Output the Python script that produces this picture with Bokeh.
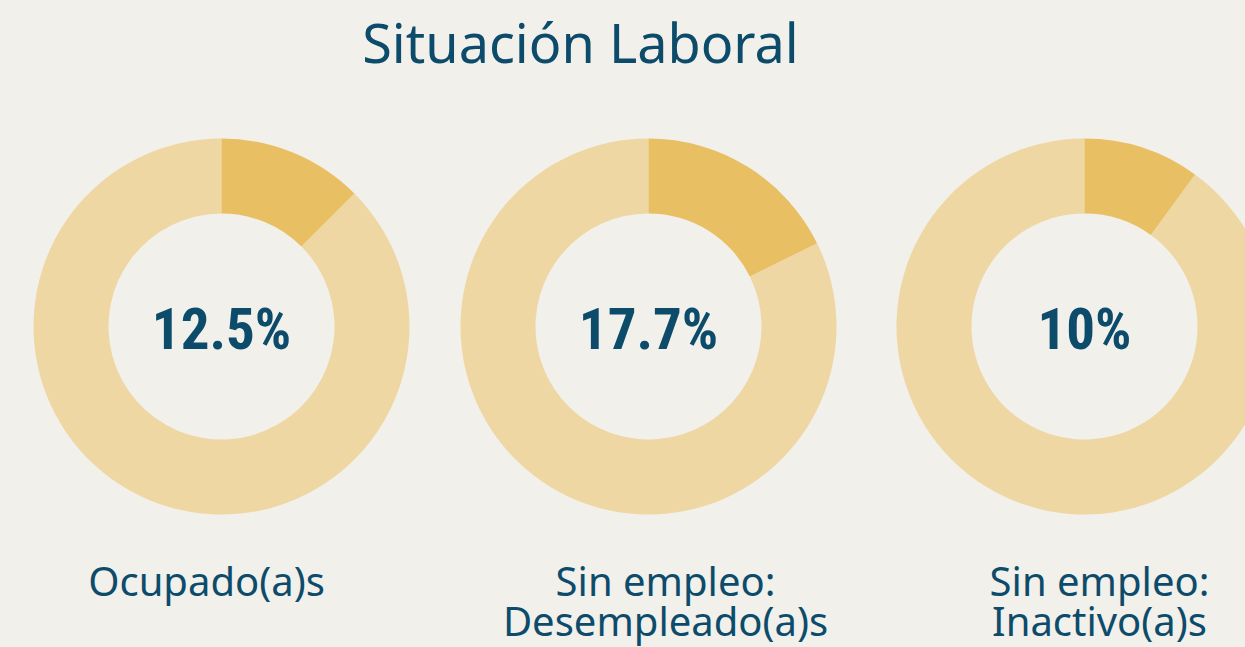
from bokeh.plotting import figure
from bokeh.models import ColumnDataSource, Range1d
from bokeh.core.properties import value
from bokeh.embed import file_html
from bokeh.resources import INLINE
import math

# ---- data ----
title = "Situación Laboral"
categories = ["Ocupado(a)s", "Sin empleo:\nDesempleado(a)s", "Sin empleo:\nInactivo(a)s"]
percentages = [12.5, 17.7, 10.0]
center_labels = ["12.5%", "17.7%", "10%"]

# ---- layout / style ----
BG = "#f1f0eb"
LIGHT = "#efd7a3"
DARK = "#e9bf63"
TEXT = "#0d4b6b"
centers_x = [221, 648, 1084]
center_y = -326
label_x = [206, 665, 1099]
outer_r = 188
inner_r = 113
W, H = 1245, 647

p = figure(width=W, height=H, output_backend="svg", toolbar_location=None,
           x_range=Range1d(0, W), y_range=Range1d(-H, 0),
           background_fill_color=BG, border_fill_color=BG,
           min_border=0, outline_line_color=None)
p.axis.visible = False
p.grid.visible = False

start = math.pi / 2
ends = [start - 2 * math.pi * v / 100.0 for v in percentages]

# full light ring
p.annular_wedge(x=centers_x, y=[center_y] * 3, inner_radius=inner_r, outer_radius=outer_r,
                start_angle=ends, end_angle=[start] * 3, direction="clock",
                fill_color=LIGHT, line_color=None)
# highlighted share
src = ColumnDataSource(dict(x=centers_x, y=[center_y] * 3, start=[start] * 3, end=ends))
p.annular_wedge(x="x", y="y", inner_radius=inner_r, outer_radius=outer_r,
                start_angle="start", end_angle="end", direction="clock",
                fill_color=DARK, line_color=None, source=src)

# center numbers
p.text(x=centers_x, y=[-329] * 3, text=center_labels,
       text_font=value("'Roboto Condensed', 'Liberation Sans Narrow', Roboto, sans-serif"),
       text_font_style="bold", text_font_size="57px", text_color=TEXT,
       text_align="center", text_baseline="alphabetic")

# category labels (line by line)
lx, ly, lt = [], [], []
for x, lab in zip(label_x, categories):
    for i, line in enumerate(lab.split("\n")):
        lx.append(x)
        ly.append(-580 - 40 * i)
        lt.append(line)
p.text(x=lx, y=ly, text=lt, text_font=value("Noto Sans"), text_font_size="40px",
       text_color=TEXT, text_align="center", text_baseline="alphabetic")

# title
p.text(x=[580], y=[-41], text=[title], text_font=value("Noto Sans"), text_font_size="54px",
       text_color=TEXT, text_align="center", text_baseline="alphabetic")

html = file_html(p, INLINE)
html = html.replace("<head>", "<head><style>html,body{background:%s;margin:0;padding:0;overflow:hidden;}</style>" % BG, 1)
open("out.html", "w").write(html)
